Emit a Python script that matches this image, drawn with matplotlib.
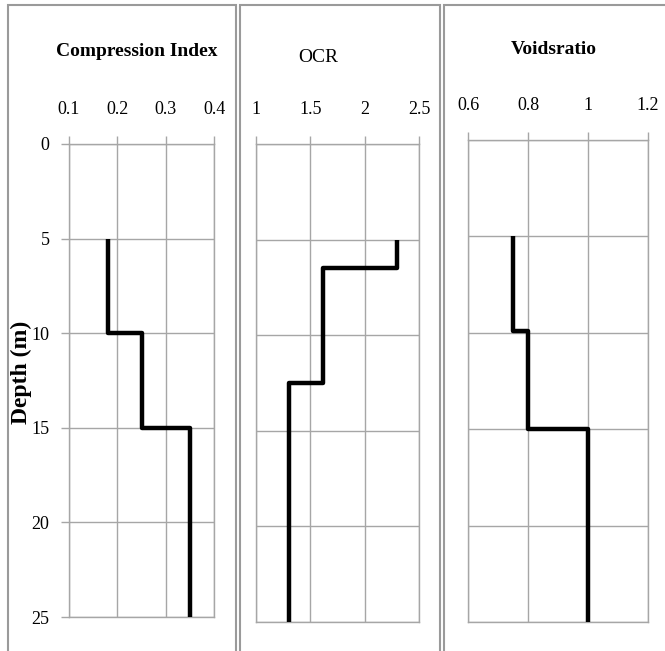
import numpy as np
import matplotlib
matplotlib.use('Agg')
import matplotlib.pyplot as plt
from matplotlib.patches import Rectangle

plt.rcParams['font.family'] = 'Liberation Serif'

# layer boundaries (depth, m) and values within each layer
ci_bounds = [5, 10, 15, 25]
ci_values = [0.18, 0.25, 0.35]
ocr_bounds = [5, 6.5, 12.5, 25]
ocr_values = [2.3, 1.62, 1.3]
voids_bounds = [5, 9.9, 15, 25]
voids_values = [0.75, 0.8, 1.0]

depth_ticks = [0, 5, 10, 15, 20, 25]
ci_ticks = [0.1, 0.2, 0.3, 0.4]
ci_labels = ['0.1', '0.2', '0.3', '0.4']
ocr_ticks = [1, 1.5, 2, 2.5]
ocr_labels = ['1', '1.5', '2', '2.5']
voids_ticks = [0.6, 0.8, 1.0, 1.2]
voids_labels = ['0.6', '0.8', '1', '1.2']

W, H = 665, 651
fig = plt.figure(figsize=(W / 100, H / 100), dpi=100)

def px_axes(left, right, top, bottom):
    return fig.add_axes([left / W, (H - bottom) / H, (right - left) / W, (bottom - top) / H])

def frame(left, right, top, bottom):
    r = Rectangle((left / W, (H - bottom) / H), (right - left) / W, (bottom - top) / H,
                  transform=fig.transFigure, fill=False, edgecolor='#9a9a9a', lw=1.5)
    fig.patches.append(r)

frame(8, 236, 5, 660)
frame(240, 440, 5, 660)
frame(444, 675, 5, 660)

grid_col = '#a6a6a6'

def setup(ax, ticks, labels, ylabels):
    ax.set_ylim(25, 0)
    ax.set_xlim(ticks[0], ticks[-1])
    ax.set_xticks(ticks)
    ax.set_xticklabels(labels)
    ax.set_yticks(depth_ticks)
    ax.xaxis.tick_top()
    ax.tick_params(axis='x', length=6, width=1, color=grid_col, pad=13, labelsize=13)
    if ylabels:
        ax.tick_params(axis='y', length=6, width=1, color=grid_col, pad=8, labelsize=13)
    else:
        ax.tick_params(axis='y', length=0, labelleft=False)
    ax.grid(True, color=grid_col, lw=1)
    for s in ax.spines.values():
        s.set_color(grid_col)
        s.set_linewidth(1)

def draw(ax, bounds, values):
    y = np.repeat(bounds, 2)[1:-1]
    x = np.repeat(values, 2)
    ax.plot(x, y, color='black', lw=3.2, solid_capstyle='butt', zorder=3)

ax1 = px_axes(69, 214, 144, 617)
setup(ax1, ci_ticks, ci_labels, True)
draw(ax1, ci_bounds, ci_values)

ax2 = px_axes(256, 419, 144, 622)
setup(ax2, ocr_ticks, ocr_labels, False)
draw(ax2, ocr_bounds, ocr_values)

ax3 = px_axes(468, 648, 140, 622)
setup(ax3, voids_ticks, voids_labels, False)
draw(ax3, voids_bounds, voids_values)

fig.text(137 / W, 1 - 52 / H, 'Compression Index', ha='center', va='center',
         fontsize=14, fontweight='bold')
fig.text(318 / W, 1 - 57 / H, 'OCR', ha='center', va='center', fontsize=14)
fig.text(554 / W, 1 - 50 / H, 'Voidsratio', ha='center', va='center',
         fontsize=14, fontweight='bold')
fig.text(21 / W, 1 - 372 / H, 'Depth (m)', ha='center', va='center', rotation=90,
         fontsize=17, fontweight='bold')

fig.savefig('out.png', dpi=100)
